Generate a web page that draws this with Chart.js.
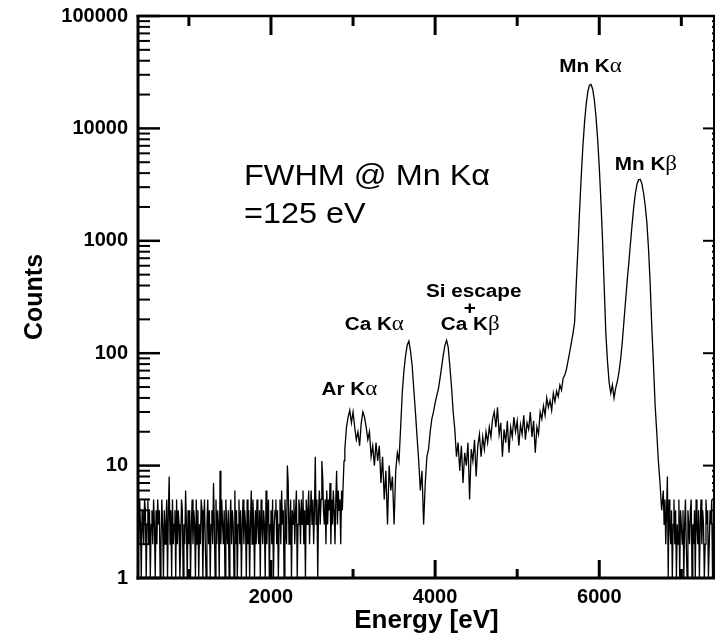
<!DOCTYPE html>
<html>
<head>
<meta charset="utf-8">
<script src="https://cdn.jsdelivr.net/npm/chart.js@4.4.1/dist/chart.umd.min.js"></script>
<style>
  html, body { margin: 0; padding: 0; background: #fff; }
  canvas { display: block; }
</style>
</head>
<body>
<canvas id="spectrum" width="715" height="636"></canvas>
<script>
// 380 - 2890 eV, 10 eV channels
const lowNoiseCounts = [
    4,2,5,3,1,4,3,2,5,4,1,3,5,2,4,1,3,4,2,5,3,
    1,4,2,5,3,4,1,2,5,3,1,4,2,3,5,1,4,8,2,4,1,
    5,2,3,4,1,5,2,4,3,1,2,5,4,1,3,2,6,3,1,4,2,
    4,1,3,5,2,4,3,1,5,2,4,1,3,2,5,4,1,3,5,2,1,
    3,5,2,4,1,3,4,2,7,3,1,5,2,4,3,1,9,2,5,3,2,
    4,1,5,3,2,4,1,3,5,2,4,3,1,6,2,4,1,3,5,2,4,
    1,3,5,2,4,3,1,5,2,4,1,3,6,2,5,3,1,4,2,5,3,
    2,4,1,5,3,2,4,3,1,6,2,4,5,1,3,4,2,5,1,3,4,
    5,2,4,1,3,5,2,6,3,4,1,5,3,2,10,7,2,3,5,1,4,
    3,5,2,4,6,1,3,5,4,2,5,3,6,2,4,1,5,3,4,6,2,
    4,6,3,5,2,4,12,3,5,1,4,6,3,5,11,8,4,3,5,2,6,
    3,5,4,7,2,5,3,6,4,2,5,9,3,6,4,5,2,6,4,7,11
];
// 2900 - 3580 eV, 20 eV channels
const argonCounts = [
    14,22,27,31,24,30,22,17,20,15,24,30,27,22,17,20,12,15,
    10,16,11,15,7,12,5,9,3,10,6,8,3,9,13,11,22
];
// 3600 - 4280 eV
const calciumCounts = [
    45,70,95,118,128,105,78,48,30,18,11,6,9,3,7,12,14,20,
    26,30,36,42,48,60,76,97,118,130,112,76,50,30,21,12,16
];
// 4300 - 5680 eV
const continuumCounts = [
    9,15,7,13,10,16,5,14,11,17,8,15,19,12,18,14,20,16,22,18,
    26,30,22,33,19,24,12,21,16,25,13,22,18,27,20,25,15,23,19,28,
    17,24,21,30,18,25,13,22,19,30,26,34,28,40,33,38,31,44,37,46,
    41,52,47,60,64,72,86,103,124,150
];
// 5700 - 6760 eV
const manganeseCounts = [
    190,420,850,1850,3720,6860,11200,16300,21100,24200,24600,22300,17900,12700,8050,4520,2250,1000,390,150,
    85,55,44,52,40,49,56,68,
    88,125,190,290,440,640,950,1400,2000,2650,3200,3500,3520,
    3200,2650,2050,1450,850,420,170,80,35,20,11,7,4
];
// 6780 - 7420 eV, 10 eV channels
const highNoiseCounts = [
    6,3,5,2,4,8,1,5,3,2,4,1,3,5,2,4,1,3,2,5,
    1,4,3,2,4,1,3,5,2,1,4,3,2,4,5,1,3,2,4,1,
    5,3,2,4,1,3,5,2,4,3,1,2,5,3,4,1,2,4,3,5,
    1,3,2,4,3
];

const xTickPositions = [1000, 2000, 3000, 4000, 5000, 6000, 7000];
const xTickLabels = [2000, 4000, 6000];
const yTickLabels = [1, 10, 100, 1000, 10000, 100000];

const peakLabels = ['Ar K', 'Ca K', 'Si escape', '+', 'Ca K', 'Mn K', 'Mn K'];
const peakGreek = ['α', 'α', '', '', 'β', 'α', 'β'];
const peakEnergies = [2955, 3259, 4470, 4421, 4427, 5893, 6568];
const peakCounts = [42.5, 161, 316, 223, 161, 31800, 4270];

const noteLines = ['FWHM @ Mn K', '=125 eV'];
const noteGreek = ['α', ''];
const noteEnergy = 1672;
const noteCounts = [3140, 1440];

const sansFamily = '"Liberation Sans", Arial, Helvetica, sans-serif';

function buildSpectrum() {
    const segments = [
        {start: 380, step: 10, counts: lowNoiseCounts},
        {start: 2900, step: 20, counts: argonCounts},
        {start: 3600, step: 20, counts: calciumCounts},
        {start: 4300, step: 20, counts: continuumCounts},
        {start: 5700, step: 20, counts: manganeseCounts},
        {start: 6780, step: 10, counts: highNoiseCounts}
    ];
    const points = [];
    segments.forEach(seg => {
        seg.counts.forEach((c, i) => points.push({x: seg.start + i * seg.step, y: c}));
    });
    return points;
}

function strokeLine(ctx, x1, y1, x2, y2, width) {
    ctx.lineWidth = width;
    ctx.beginPath();
    ctx.moveTo(x1, y1);
    ctx.lineTo(x2, y2);
    ctx.stroke();
}

function drawText(ctx, x, y, text, greek, opts) {
    ctx.save();
    ctx.translate(x, y);
    ctx.scale(opts.stretch, 1);
    const mainFont = `${opts.weight} ${opts.size}px ${sansFamily}`;
    const greekFont = `${opts.greekSize}px ${opts.greekFamily}`;
    ctx.font = mainFont;
    const mainWidth = ctx.measureText(text).width;
    ctx.font = greekFont;
    const greekWidth = greek ? ctx.measureText(greek).width : 0;
    const start = opts.align === 'left' ? 0 : -(mainWidth + greekWidth) / 2;
    ctx.fillStyle = '#000';
    ctx.textAlign = 'left';
    ctx.textBaseline = 'alphabetic';
    ctx.font = mainFont;
    ctx.fillText(text, start, 0);
    if (greek) {
        ctx.font = greekFont;
        ctx.fillText(greek, start + mainWidth, 0);
    }
    ctx.restore();
}

const framePlugin = {
    id: 'frame',
    afterDatasetsDraw(chart) {
        const {ctx, chartArea, scales} = chart;
        const {left, right, top, bottom} = chartArea;
        ctx.save();
        ctx.strokeStyle = '#000';
        ctx.lineCap = 'butt';

        yTickLabels.forEach(d => {
            const y = scales.y.getPixelForValue(d);
            strokeLine(ctx, left, y, left + 22, y, 2.5);
            strokeLine(ctx, right, y, right - 12, y, 2);
            if (d < 100000) {
                for (let m = 2; m <= 9; m++) {
                    const ym = scales.y.getPixelForValue(m * d);
                    strokeLine(ctx, left, ym, left + 12, ym, 2);
                    strokeLine(ctx, right, ym, right - 3, ym, 2);
                }
            }
        });

        xTickPositions.forEach(v => {
            const x = scales.x.getPixelForValue(v);
            const major = xTickLabels.includes(v);
            strokeLine(ctx, x, top, x, top + (major ? 19 : 10), 3);
            strokeLine(ctx, x, bottom, x, bottom - (major ? 18 : 9), 3);
        });

        strokeLine(ctx, left - 1.5, top, right, top, 2.5);
        strokeLine(ctx, left - 1.5, bottom, right, bottom, 3);
        strokeLine(ctx, left, top - 1, left, bottom + 1.5, 3);
        strokeLine(ctx, right - 1, top, right - 1, bottom, 2);
        ctx.restore();
    },
    afterDraw(chart) {
        const {ctx, scales} = chart;
        const labelStyle = {weight: 'bold', size: 18, greekSize: 20,
            greekFamily: '"Liberation Serif", "DejaVu Serif", serif', stretch: 1.15, align: 'center'};
        peakLabels.forEach((text, i) => {
            const x = scales.x.getPixelForValue(peakEnergies[i]);
            const y = scales.y.getPixelForValue(peakCounts[i]);
            drawText(ctx, x, y, text, peakGreek[i], labelStyle);
        });
        const noteStyle = {weight: 'normal', size: 30, greekSize: 30,
            greekFamily: sansFamily, stretch: 1.08, align: 'left'};
        noteLines.forEach((text, i) => {
            const x = scales.x.getPixelForValue(noteEnergy);
            const y = scales.y.getPixelForValue(noteCounts[i]);
            drawText(ctx, x, y, text, noteGreek[i], noteStyle);
        });
    }
};

Chart.defaults.font.family = sansFamily;
Chart.defaults.color = '#000';

const ctx = document.getElementById('spectrum').getContext('2d');
new Chart(ctx, {
    type: 'line',
    data: {
        datasets: [{
            data: buildSpectrum(),
            borderColor: '#000',
            borderWidth: 1.3,
            pointRadius: 0,
            tension: 0,
            fill: false
        }]
    },
    options: {
        responsive: false,
        animation: false,
        layout: {padding: {top: 16, left: 0, right: 0, bottom: 0}},
        plugins: {legend: {display: false}, tooltip: {enabled: false}},
        scales: {
            x: {
                type: 'linear',
                min: 380,
                max: 7410,
                grid: {display: false, drawTicks: true, tickLength: 7},
                border: {display: false},
                afterBuildTicks: scale => {
                    scale.ticks = xTickPositions.map(v => ({value: v}));
                },
                ticks: {
                    autoSkip: false,
                    maxRotation: 0,
                    padding: 0,
                    font: {size: 20, weight: 'bold'},
                    callback: value => xTickLabels.includes(value) ? String(value) : ''
                },
                title: {
                    display: true,
                    text: 'Energy [eV]',
                    font: {size: 26, weight: 'bold'},
                    padding: {top: 0, bottom: 0}
                },
                afterFit: scale => { scale.height = 58; }
            },
            y: {
                type: 'logarithmic',
                min: 1,
                max: 100000,
                grid: {display: false, drawTicks: true, tickLength: 10},
                border: {display: false},
                ticks: {
                    autoSkip: false,
                    padding: 0,
                    font: {size: 20, weight: 'bold'},
                    callback: value => yTickLabels.includes(value) ? String(value) : null
                },
                title: {
                    display: true,
                    text: 'Counts',
                    font: {size: 25, weight: 'bold'},
                    padding: {top: 20, bottom: 0}
                },
                afterFit: scale => { scale.width = 138; }
            }
        }
    },
    plugins: [framePlugin]
});
</script>
</body>
</html>
